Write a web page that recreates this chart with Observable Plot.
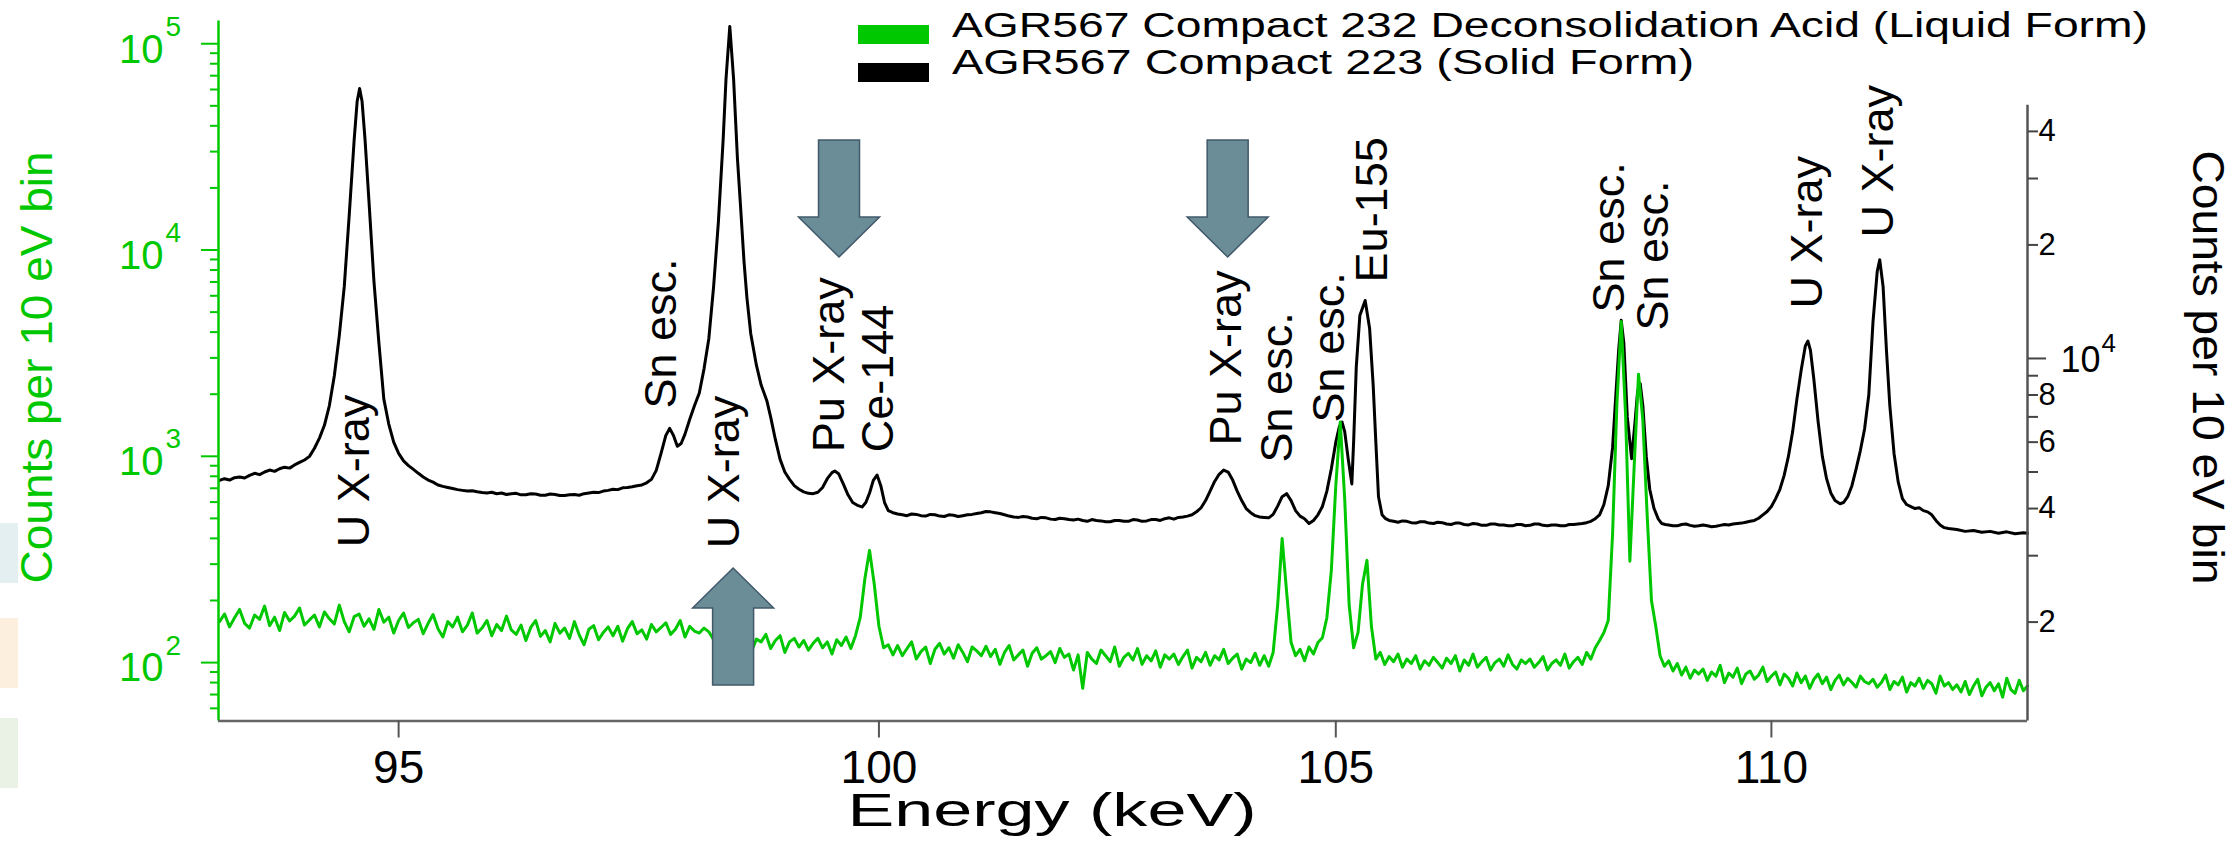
<!DOCTYPE html>
<html><head><meta charset="utf-8">
<script src="https://cdn.jsdelivr.net/npm/d3@7"></script>
<script src="https://cdn.jsdelivr.net/npm/@observablehq/plot@0.6"></script>
<style>
html,body{margin:0;padding:0;background:#fff;}
#wrap{position:relative;width:2234px;height:846px;overflow:hidden;font-family:"Liberation Sans",Arial,Helvetica,sans-serif;}
#wrap svg{position:absolute;left:0;top:0;}
.deco{position:absolute;left:0;width:18px;}
.lg-sw{position:absolute;left:858px;width:71px;height:18.5px;z-index:2;}
.lg-tx{position:absolute;left:952px;height:40px;line-height:40px;font-size:35px;white-space:nowrap;color:#000;transform-origin:0 50%;z-index:2;}
</style></head>
<body><div id="wrap">
<div class="deco" style="top:523px;height:60px;background:#e4eff2"></div>
<div class="deco" style="top:618px;height:70px;background:#fcefdd"></div>
<div class="deco" style="top:718px;height:70px;background:#e9f2e5"></div>
</div>
<script>
// ---------- text & categories ----------
const seriesNames = ["AGR567 Compact 232 Deconsolidation Acid (Liquid Form)", "AGR567 Compact 223 (Solid Form)"];
const seriesColors = ["#00c800", "#000000"];
const xTitle = "Energy (keV)";
const yTitleLeft = "Counts per 10 eV bin";
const yTitleRight = "Counts per 10 eV bin";

// ---------- axes ----------
const xTicks = [95, 100, 105, 110];
const leftMajorTicks = [100, 1000, 10000, 100000];
const leftMajorExp = ["2", "3", "4", "5"];
const leftMinorTicks = [60,70,80,90,200,300,400,500,600,700,800,900,2000,3000,4000,5000,6000,7000,8000,9000,20000,30000,40000,50000,60000,70000,80000,90000];
const rightTicks = [2000,3000,4000,5000,6000,7000,8000,9000,20000,30000,40000];
const rightLabelValues = [2000, 4000, 6000, 8000, 20000, 40000];
const rightLabelText = ["2", "4", "6", "8", "2", "4"];
const rightDecade = 10000;
const rightDecadeExp = "4";

// ---------- liquid form (green, left axis), 50 eV grid from 93.20 keV ----------
const liquidStart = 93.2, liquidStep = 0.05;
const liquidCounts = [
158,172,149,165,181,155,147,170,162,188,151,166,143,175,159,168,184,152,161,170,
149,176,163,154,190,158,141,167,172,150,163,145,181,157,166,139,160,174,148,156,
162,138,155,171,146,133,158,149,166,141,152,174,139,147,160,135,153,143,168,144,
137,152,128,148,160,134,143,126,155,139,147,131,158,136,122,145,151,129,140,149,
135,150,127,146,158,138,144,130,153,141,148,156,137,145,160,133,150,142,139,147,
141,129,136,118,145,127,133,122,139,114,130,126,137,117,128,135,112,126,131,119,
128,115,124,131,118,126,110,129,121,133,117,135,165,255,350,240,150,118,122,109,
121,108,117,126,104,113,119,99,116,124,110,118,105,122,112,101,119,114,108,120,
107,116,98,112,121,103,109,115,96,111,118,104,108,113,100,117,106,110,92,109,
75,112,104,99,115,108,101,119,96,106,111,103,117,98,108,102,114,95,109,104,
110,98,107,115,94,106,101,112,97,108,103,116,99,105,110,93,104,100,111,97,
108,96,112,190,399,220,125,108,116,102,119,110,125,132,165,280,720,1465,620,190,
118,140,240,313,150,104,112,98,107,101,110,95,104,99,108,93,102,97,106,100,
94,105,99,108,91,103,97,110,95,101,106,92,100,104,96,109,98,93,103,99,
104,95,100,107,92,99,103,97,110,94,101,106,98,112,104,118,128,140,160,420,
1800,4500,1600,310,900,2500,1500,520,200,150,108,96,102,91,99,87,95,84,92,88,
93,82,90,86,97,80,89,85,94,79,88,91,83,87,95,81,86,90,78,88,
84,77,89,80,86,75,83,88,79,85,74,82,87,78,84,80,76,86,81,79,
83,76,80,87,74,81,78,85,72,80,77,84,75,82,79,71,86,77,80,74,
78,72,81,70,77,83,69,76,80,73,79,68,84,74,71,82,73,77
];

// ---------- solid form (black, right axis): [energy keV, counts] ----------
const solid = [
[93.20,4750],[93.25,4800],[93.30,4760],[93.35,4830],[93.40,4850],[93.45,4820],[93.50,4900],[93.55,4960],[93.60,4920],[93.65,5000],[93.70,5060],[93.75,5020],[93.80,5100],[93.85,5150],[93.90,5120],[93.95,5220],[94.00,5300],[94.05,5380],[94.10,5500],[94.15,5780],[94.20,6150],[94.25,6650],[94.30,7500],[94.35,9000],[94.40,11500],[94.45,15500],[94.50,24000],[94.55,38000],[94.58,48000],[94.605,52000],[94.63,48000],[94.66,38000],[94.70,26000],[94.75,16000],[94.80,11000],[94.85,7800],[94.90,6700],[94.95,6000],[95.00,5600],[95.05,5350],[95.10,5200],[95.15,5080],[95.20,4960],[95.25,4850],[95.30,4760],[95.35,4700],[95.40,4620],[95.45,4580],[95.50,4550],[95.55,4520],[95.60,4490],[95.65,4470],[95.70,4450],[95.75,4460],[95.80,4430],[95.85,4410],[95.90,4400],[95.95,4420],
[96.00,4380],[96.05,4400],[96.10,4360],[96.15,4380],[96.20,4390],[96.25,4350],[96.30,4350],[96.35,4380],[96.40,4370],[96.45,4340],[96.50,4340],[96.55,4370],[96.60,4360],[96.65,4330],[96.70,4330],[96.75,4350],[96.80,4360],[96.85,4340],[96.90,4380],[96.95,4400],[97.00,4420],[97.05,4410],[97.10,4450],[97.15,4470],[97.20,4500],[97.25,4490],[97.30,4540],[97.35,4550],[97.40,4570],[97.45,4600],[97.50,4620],[97.55,4680],[97.60,4780],[97.65,5050],[97.70,5600],[97.75,6250],[97.79,6525],[97.83,6250],[97.87,5850],[97.91,5950],[97.95,6300],
[98.00,6900],[98.05,7500],[98.10,8100],[98.15,9400],[98.20,11300],[98.25,15500],[98.30,23000],[98.35,38000],[98.38,55000],[98.42,75900],[98.46,55000],[98.50,34000],[98.53,26000],[98.57,18000],[98.60,14500],[98.64,11650],[98.70,9600],[98.75,8500],[98.81,7730],[98.85,7000],[98.90,6100],[98.95,5400],[99.00,5000],[99.05,4780],[99.10,4600],[99.15,4500],[99.20,4430],[99.25,4390],[99.30,4380],[99.35,4420],[99.40,4550],[99.45,4800],[99.50,4980],[99.53,5030],[99.57,4950],[99.62,4650],[99.67,4350],[99.72,4150],[99.77,4080],[99.82,4040],[99.86,4150],[99.90,4400],[99.94,4750],[99.98,4910],
[100.02,4600],[100.06,4150],[100.10,3950],[100.15,3900],[100.20,3870],[100.25,3850],[100.30,3830],[100.35,3870],[100.40,3860],[100.45,3830],[100.50,3820],[100.55,3860],[100.60,3850],[100.65,3820],[100.70,3810],[100.75,3850],[100.80,3840],[100.85,3810],[100.90,3830],[100.95,3850],[101.00,3860],[101.05,3880],[101.10,3900],[101.15,3930],[101.20,3920],[101.25,3900],[101.30,3880],[101.35,3850],[101.40,3820],[101.45,3800],[101.50,3790],[101.55,3810],[101.60,3800],[101.65,3770],[101.70,3760],[101.75,3790],[101.80,3780],[101.85,3750],[101.90,3740],[101.95,3770],
[102.00,3760],[102.05,3740],[102.10,3730],[102.15,3750],[102.20,3720],[102.25,3700],[102.30,3740],[102.35,3720],[102.40,3710],[102.45,3690],[102.50,3690],[102.55,3720],[102.60,3720],[102.65,3700],[102.70,3700],[102.75,3740],[102.80,3730],[102.85,3700],[102.90,3710],[102.95,3740],[103.00,3740],[103.05,3720],[103.10,3760],[103.15,3780],[103.20,3750],[103.25,3790],[103.30,3800],[103.35,3820],[103.40,3850],[103.45,3920],[103.50,4020],[103.55,4200],[103.60,4450],[103.65,4720],[103.70,4930],[103.75,5060],[103.80,5000],[103.85,4760],[103.90,4450],[103.95,4200],
[104.00,4000],[104.05,3900],[104.10,3830],[104.15,3800],[104.20,3790],[104.25,3780],[104.30,3860],[104.35,4060],[104.40,4300],[104.45,4380],[104.50,4200],[104.55,3950],[104.60,3820],[104.65,3760],[104.70,3650],[104.75,3720],[104.80,3850],[104.85,4050],[104.90,4450],[104.95,5100],[105.00,6000],[105.04,6600],[105.07,6780],[105.10,6400],[105.14,5400],[105.18,4650],[105.20,6000],[105.23,9500],[105.27,13000],[105.33,14250],[105.38,12000],[105.42,8500],[105.45,6000],[105.48,4300],[105.52,3850],[105.56,3760],[105.60,3720],[105.65,3700],[105.70,3680],[105.75,3710],[105.80,3700],[105.85,3670],[105.90,3660],[105.95,3690],
[106.00,3690],[106.05,3660],[106.10,3650],[106.15,3680],[106.20,3670],[106.25,3640],[106.30,3630],[106.35,3660],[106.40,3660],[106.45,3630],[106.50,3620],[106.55,3650],[106.60,3640],[106.65,3610],[106.70,3610],[106.75,3640],[106.80,3640],[106.85,3620],[106.90,3620],[106.95,3600],[107.00,3600],[107.05,3630],[107.10,3630],[107.15,3600],[107.20,3610],[107.25,3640],[107.30,3640],[107.35,3610],[107.40,3600],[107.45,3620],[107.50,3620],[107.55,3600],[107.60,3600],[107.65,3630],[107.70,3630],[107.75,3640],[107.80,3650],[107.85,3670],[107.90,3700],[107.95,3760],
[108.00,3850],[108.05,4100],[108.10,4600],[108.15,5800],[108.18,7500],[108.22,10500],[108.25,12620],[108.28,11000],[108.32,7000],[108.37,5425],[108.41,6800],[108.44,8200],[108.47,8575],[108.50,7500],[108.54,5500],[108.58,4500],[108.63,4000],[108.68,3750],[108.72,3650],[108.76,3630],[108.80,3620],[108.85,3600],[108.90,3600],[108.95,3630],[109.00,3640],[109.05,3610],[109.10,3590],[109.15,3600],[109.20,3620],[109.25,3600],[109.30,3580],[109.35,3590],[109.40,3610],[109.45,3630],[109.50,3620],[109.55,3640],[109.60,3650],[109.65,3660],[109.70,3680],[109.75,3700],[109.80,3720],[109.85,3770],[109.90,3850],[109.95,3930],
[110.00,4050],[110.05,4250],[110.10,4500],[110.15,4900],[110.20,5500],[110.25,6400],[110.30,7800],[110.35,9300],[110.40,10800],[110.43,11120],[110.46,10500],[110.50,8800],[110.55,6800],[110.60,5500],[110.65,4800],[110.70,4400],[110.75,4200],[110.81,4120],[110.85,4150],[110.90,4300],[110.95,4600],[111.00,5100],[111.05,5700],[111.10,6500],[111.15,8000],[111.20,12500],[111.25,17000],[111.28,18270],[111.32,15500],[111.36,10500],[111.40,7500],[111.45,5600],[111.50,4700],[111.55,4250],[111.60,4100],[111.65,4050],[111.70,4000],[111.75,4020],[111.80,3950],[111.85,3920],[111.90,3850],[111.95,3720],
[112.00,3620],[112.05,3560],[112.10,3540],[112.15,3530],[112.20,3520],[112.30,3480],[112.40,3500],[112.50,3460],[112.60,3480],[112.70,3440],[112.80,3470],[112.90,3430],[113.00,3450],[113.05,3440]
];

// ---------- peak annotations (rotated), placed at energy / left-axis count where text starts ----------
const annoLabels = ["U X-ray","Sn esc.","U X-ray","Pu X-ray","Ce-144","Pu X-ray","Sn esc.","Sn esc.","Eu-155","Sn esc.","Sn esc.","U X-ray","U X-ray"];
const annoEnergy = [94.55, 97.71, 98.37, 99.47, 100.00, 103.78, 104.35, 104.93, 105.41, 108.11, 108.62, 110.43, 111.27];
const annoAt     = [362, 1706, 358, 1045, 1045, 1129, 934, 1460, 6966, 4983, 4075, 5212, 11510];

// ---------- block arrows ----------
const arrowEnergy = [99.58, 103.80, 98.46];
const arrowTip    = [9200, 9200, 286];
const arrowDir    = ["down", "down", "up"];

// ---------- scales ----------
const xDomain = [93.19, 113.05];
const yDomain = [52.1, 128900];
const rightAxisTop = 46900;
const titleY = 2697;   // vertical centre of the rotated axis titles, in left-axis units
// right (solid form) axis expressed on the left log scale
const toLeft = r => Math.pow(10, 2.1963 + 1.8284 * (Math.log10(r) - Math.log10(2000)));

const GREEN = seriesColors[0];
const FONT = '"Liberation Sans", Arial, Helvetica, sans-serif';

const liquid = liquidCounts.map((c, i) => ({energy: +(liquidStart + i * liquidStep).toFixed(3), counts: c}));
const solidData = solid.map(([e, c]) => ({energy: e, counts: c, y: toLeft(c)}));
const annos = annoLabels.map((t, i) => ({label: t, energy: annoEnergy[i], at: annoAt[i]}));

const SVGNS = "http://www.w3.org/2000/svg";
function arrows(index, scales) {
  const g = document.createElementNS(SVGNS, "g");
  arrowEnergy.forEach((e, i) => {
    const px = scales.x(e), py = scales.y(arrowTip[i]);
    const s = arrowDir[i] === "down" ? -1 : 1;
    const hw = 20.5, hh = 40.5, head = 40, len = 117;
    const pts = [[px, py], [px + hh, py + s * head], [px + hw, py + s * head], [px + hw, py + s * len],
                 [px - hw, py + s * len], [px - hw, py + s * head], [px - hh, py + s * head]];
    const p = document.createElementNS(SVGNS, "polygon");
    p.setAttribute("points", pts.map(q => q.join(",")).join(" "));
    p.setAttribute("fill", "#6a8d97");
    p.setAttribute("stroke", "#41596a");
    p.setAttribute("stroke-width", "1.5");
    g.appendChild(p);
  });
  return g;
}

const chart = Plot.plot({
  width: 2234, height: 846,
  marginLeft: 218, marginRight: 207, marginTop: 20.5, marginBottom: 125.5,
  style: {fontFamily: FONT, background: "transparent", overflow: "visible"},
  x: {type: "log", domain: xDomain, axis: null},
  y: {type: "log", domain: yDomain, axis: null},
  marks: [
    Plot.line(solidData, {x: "energy", y: "y", stroke: seriesColors[1], strokeWidth: 3}),
    Plot.line(liquid, {x: "energy", y: "counts", stroke: GREEN, strokeWidth: 3}),
    // axis lines
    Plot.ruleX([xDomain[0]], {y1: yDomain[0], y2: yDomain[1], stroke: GREEN, strokeWidth: 2.5}),
    Plot.ruleX([xDomain[1]], {y1: yDomain[0], y2: toLeft(rightAxisTop), stroke: "#555", strokeWidth: 2.5}),
    Plot.ruleY([yDomain[0]], {x1: xDomain[0], x2: xDomain[1], stroke: "#666", strokeWidth: 2.5}),
    // left axis
    Plot.axisY(leftMajorTicks, {anchor: "left", tickSize: 17, tickFormat: () => "", stroke: GREEN, strokeWidth: 2, label: null}),
    Plot.axisY(leftMinorTicks, {anchor: "left", tickSize: 8, tickFormat: () => "", stroke: GREEN, strokeWidth: 2, label: null}),
    Plot.text(leftMajorTicks, {y: d => d, text: () => "10", frameAnchor: "left", dx: -55, dy: 6, textAnchor: "end", fontSize: 40, fill: GREEN}),
    Plot.text(leftMajorTicks, {y: d => d, text: (d, i) => leftMajorExp[i], frameAnchor: "left", dx: -53, dy: -17, textAnchor: "start", fontSize: 28, fill: GREEN}),
    Plot.text([yTitleLeft], {y: () => titleY, text: d => d, frameAnchor: "left", dx: -181, rotate: -90, textAnchor: "middle", fontSize: 44, fill: GREEN}),
    // right axis
    Plot.axisY(rightTicks.map(toLeft), {anchor: "right", tickSize: 10, tickFormat: () => "", stroke: "#444", strokeWidth: 2, label: null}),
    Plot.axisY([toLeft(rightDecade)], {anchor: "right", tickSize: 18, tickFormat: () => "", stroke: "#444", strokeWidth: 2, label: null}),
    Plot.text(rightLabelValues, {y: d => toLeft(d), text: (d, i) => rightLabelText[i], frameAnchor: "right", dx: 11, textAnchor: "start", fontSize: 31, fill: "#000"}),
    Plot.text([rightDecade], {y: d => toLeft(d), text: () => "10", frameAnchor: "right", dx: 33, dy: 2, textAnchor: "start", fontSize: 36, fill: "#000"}),
    Plot.text([rightDecade], {y: d => toLeft(d), text: () => rightDecadeExp, frameAnchor: "right", dx: 74, dy: -15, textAnchor: "start", fontSize: 26, fill: "#000"}),
    Plot.text([yTitleRight], {y: () => titleY, text: d => d, frameAnchor: "right", dx: 180, rotate: 90, textAnchor: "middle", fontSize: 44, fill: "#000"}),
    // bottom axis
    Plot.axisX(xTicks, {anchor: "bottom", tickSize: 17, tickPadding: 12, tickFormat: d => String(d), fontSize: 46, stroke: "#555", strokeWidth: 2, fill: "#000", label: null}),
    Plot.text([xTitle], {text: d => d, frameAnchor: "bottom", dx: -71, dy: 104.5, textAnchor: "middle", fontSize: 47, fill: "#000"}),
    // peak labels
    Plot.text(annos, {x: "energy", y: "at", text: "label", rotate: -90, textAnchor: "start", fontSize: 45, fill: "#000"}),
    // arrows
    arrows
  ]
});

// stretch the axis titles to the lengths they have in the figure
let titleCount = 0;
chart.querySelectorAll("text").forEach(t => {
  const s = t.textContent;
  if (s === xTitle) { t.setAttribute("textLength", 409); t.setAttribute("lengthAdjust", "spacingAndGlyphs"); }
  else if (s === yTitleLeft) { t.setAttribute("textLength", titleCount++ === 0 ? 432 : 434); t.setAttribute("lengthAdjust", "spacingAndGlyphs"); }
});

const wrap = document.getElementById("wrap");
wrap.appendChild(chart);

// legend (two rows, swatch + label)
const legendTextCenter = [27.5, 65];
const legendSwatchTop = [25, 63];
const legendWidths = [1196, 742];
seriesNames.forEach((name, i) => {
  const sw = document.createElement("div");
  sw.className = "lg-sw";
  sw.style.top = legendSwatchTop[i] + "px";
  sw.style.background = seriesColors[i];
  wrap.appendChild(sw);
  const t = document.createElement("div");
  t.className = "lg-tx";
  t.style.top = (legendTextCenter[i] - 23) + "px";
  t.textContent = name;
  wrap.appendChild(t);
  const w = t.getBoundingClientRect().width;
  if (w > 0) t.style.transform = "scaleX(" + (legendWidths[i] / w) + ")";
});
</script>
</body></html>
